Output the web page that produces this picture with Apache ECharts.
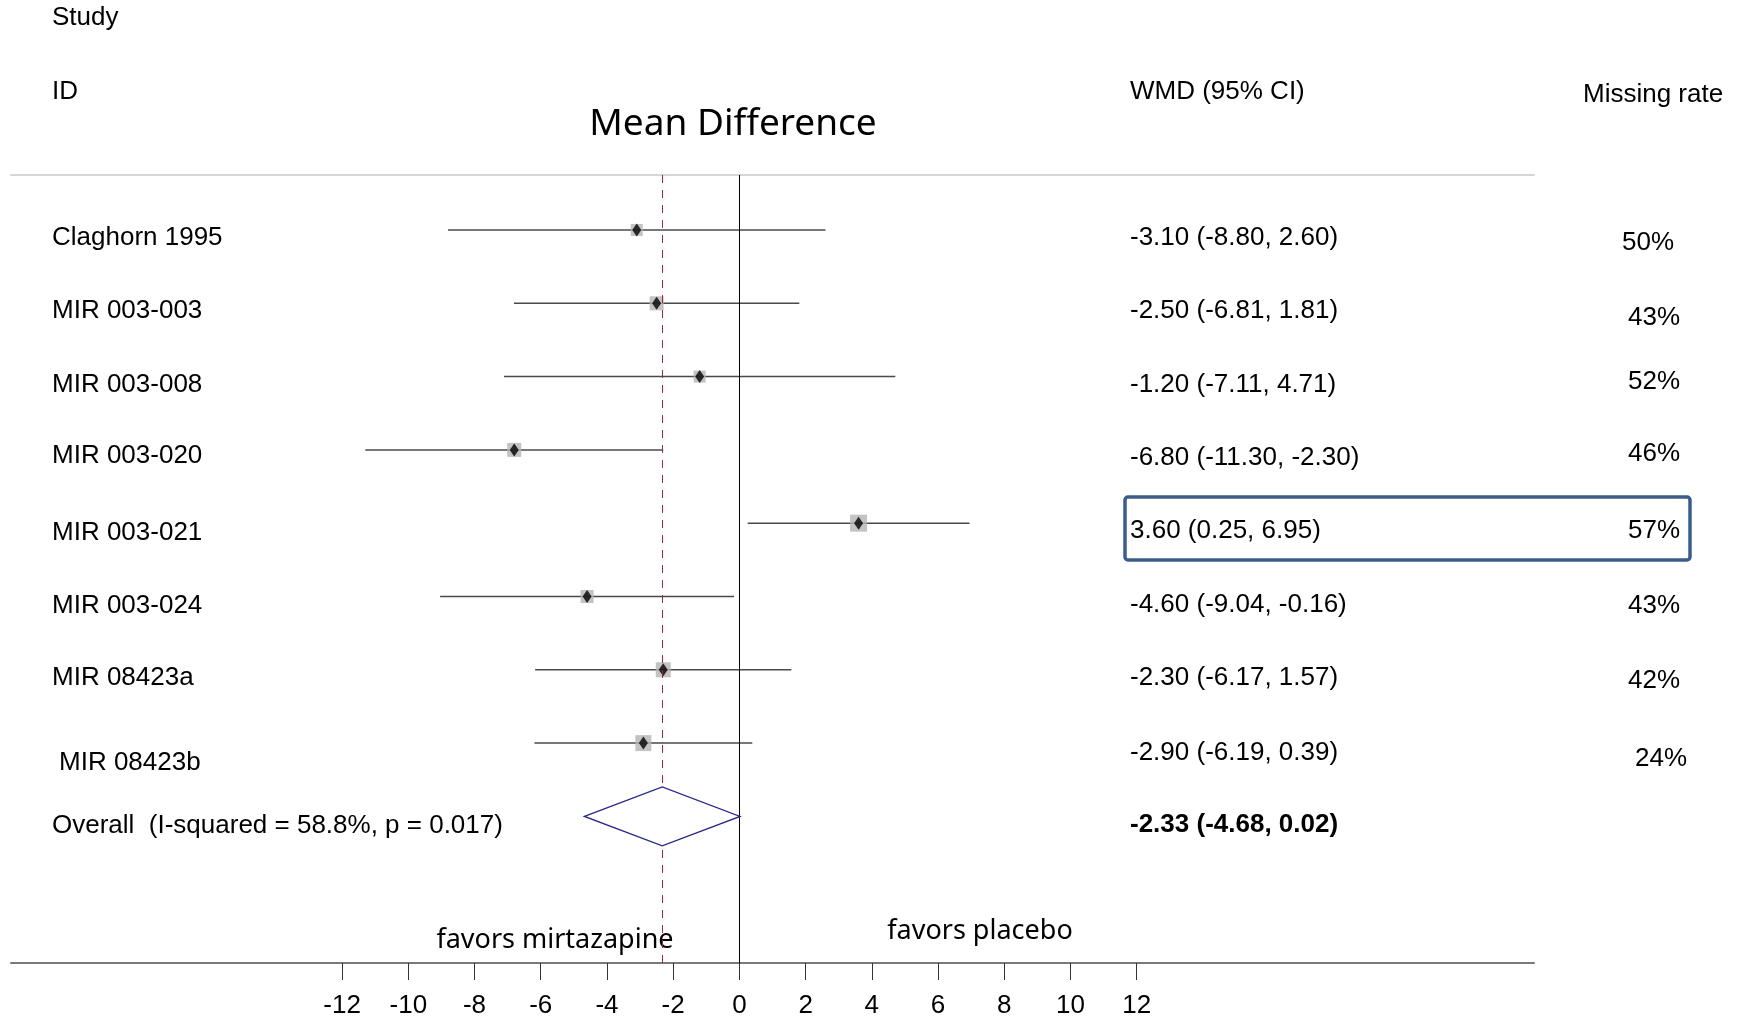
<!DOCTYPE html>
<html>
<head>
<meta charset="utf-8">
<script src="https://cdn.jsdelivr.net/npm/echarts@6/dist/echarts.min.js"></script>
<style>
html, body { margin: 0; padding: 0; background: #fff; }
#main { width: 1745px; height: 1019px; }
</style>
</head>
<body>
<div id="main"></div>
<script>
// study rows
var studies = ['Claghorn 1995', 'MIR 003-003', 'MIR 003-008', 'MIR 003-020',
               'MIR 003-021', 'MIR 003-024', 'MIR 08423a', 'MIR 08423b'];
var wmd    = [-3.10, -2.50, -1.20, -6.80, 3.60, -4.60, -2.30, -2.90];
var ciLow  = [-8.80, -6.81, -7.11, -11.30, 0.25, -9.04, -6.17, -6.19];
var ciHigh = [2.60, 1.81, 4.71, -2.30, 6.95, -0.16, 1.57, 0.39];
var missingRate = [50, 43, 52, 46, 57, 43, 42, 24];

// pooled estimate
var overallLabel = 'Overall  (I-squared = 58.8%, p = 0.017)';
var overallWmd = -2.33;
var overallLow = -4.68;
var overallHigh = 0.02;

var tickValues = [-12, -10, -8, -6, -4, -2, 0, 2, 4, 6, 8, 10, 12];

// layout only (weight boxes and small text nudges)
var boxSize = [12, 14, 12, 14, 17, 13, 15, 16];
var studyDy = [8, 8, 8, 6, 10, 9, 8, 20, 9];
var missDy = [13, 15, 5, 4, 8, 9, 11, 16];
var missDx = [-6, 0, 0, 0, 0, 0, 0, 7];

var rowFont = '26px "Liberation Sans", Arial, sans-serif';
var overallRow = studies.length;

function fmt(v) { return v.toFixed(2); }

var chart = echarts.init(document.getElementById('main'));

var option = {
    backgroundColor: '#fff',
    animation: false,
    grid: { left: 11, right: 211, top: 175, bottom: 55 },
    xAxis: [
        {
            type: 'value', min: -22, max: 24, position: 'bottom',
            axisLine: { onZero: false, lineStyle: { color: '#7a7a7a', width: 2 } },
            axisTick: { customValues: tickValues, length: 17, lineStyle: { color: '#333', width: 1 } },
            axisLabel: {
                customValues: tickValues, margin: 30, color: '#000',
                fontSize: 26, fontFamily: '"Liberation Sans", Arial, sans-serif'
            },
            splitLine: { show: false }
        },
        {
            type: 'value', min: -22, max: 24, position: 'top',
            axisLine: { onZero: false, lineStyle: { color: '#d6d6d6', width: 2 } },
            axisTick: { show: false },
            axisLabel: { show: false },
            splitLine: { show: false }
        }
    ],
    yAxis: { type: 'value', min: -0.75, max: 10, inverse: true, show: false },
    graphic: [
        { type: 'text', x: 52, y: 18, style: { text: 'Study', font: rowFont, fill: '#000', verticalAlign: 'middle' } },
        { type: 'text', x: 52, y: 92, style: { text: 'ID', font: rowFont, fill: '#000', verticalAlign: 'middle' } },
        { type: 'text', x: 1130, y: 92, style: { text: 'WMD (95% CI)', font: rowFont, fill: '#000', verticalAlign: 'middle' } },
        { type: 'text', x: 1583, y: 95, style: { text: 'Missing rate', font: rowFont, fill: '#000', verticalAlign: 'middle' } },
        {
            type: 'text', x: 733, y: 124,
            style: { text: 'Mean Difference', font: '37px "Noto Sans", sans-serif', fill: '#000', align: 'center', verticalAlign: 'middle' }
        },
        {
            type: 'text', x: 555, y: 940,
            style: { text: 'favors mirtazapine', font: '27px "Noto Sans", sans-serif', fill: '#000', align: 'center', verticalAlign: 'middle' }
        },
        {
            type: 'text', x: 980, y: 931,
            style: { text: 'favors placebo', font: '27px "Noto Sans", sans-serif', fill: '#000', align: 'center', verticalAlign: 'middle' }
        },
        {
            type: 'rect', shape: { x: 1125, y: 497, width: 565, height: 63, r: 3 },
            style: { fill: 'none', stroke: '#3b5d8c', lineWidth: 3.5 }
        }
    ],
    series: [
        {
            // confidence intervals
            type: 'custom',
            clip: false,
            data: studies.map(function (s, i) { return [ciLow[i], ciHigh[i], i]; }),
            renderItem: function (params, api) {
                var a = api.coord([api.value(0), api.value(2)]);
                var b = api.coord([api.value(1), api.value(2)]);
                return {
                    type: 'line',
                    shape: { x1: a[0], y1: a[1], x2: b[0], y2: b[1] },
                    style: { stroke: '#4a4a4a', lineWidth: 1.5 }
                };
            },
            z: 2
        },
        {
            // weight boxes
            type: 'scatter',
            symbol: 'rect',
            data: wmd.map(function (v, i) { return [v, i]; }),
            symbolSize: function (val, p) { return boxSize[p.dataIndex]; },
            itemStyle: { color: '#b4b4b4' },
            z: 3,
            markLine: {
                silent: true,
                symbol: 'none',
                label: { show: false },
                data: [
                    { xAxis: 0, lineStyle: { color: '#000', type: 'solid', width: 1 } },
                    { xAxis: overallWmd, lineStyle: { color: '#9e2838', type: [8, 7], width: 1 } }
                ]
            }
        },
        {
            // point estimates
            type: 'scatter',
            symbol: 'diamond',
            symbolSize: [9, 13],
            data: wmd.map(function (v, i) { return [v, i]; }),
            itemStyle: { color: '#000' },
            z: 4
        },
        {
            // pooled diamond
            type: 'custom',
            clip: false,
            data: [[overallLow, overallWmd, overallHigh, overallRow]],
            renderItem: function (params, api) {
                var l = api.coord([api.value(0), api.value(3)]);
                var c = api.coord([api.value(1), api.value(3)]);
                var h = api.coord([api.value(2), api.value(3)]);
                return {
                    type: 'polygon',
                    shape: { points: [[l[0], c[1]], [c[0], c[1] - 29.5], [h[0], c[1]], [c[0], c[1] + 29.5]] },
                    style: { fill: '#fff', stroke: '#26268a', lineWidth: 1.3 }
                };
            },
            z: 5
        },
        {
            // text columns
            type: 'custom',
            clip: false,
            data: studies.concat([overallLabel]).map(function (s, i) { return [0, i]; }),
            renderItem: function (params, api) {
                var i = params.dataIndex;
                var y = api.coord([0, i])[1];
                var isOverall = i === overallRow;
                var name = isOverall ? overallLabel : studies[i];
                var est = isOverall
                    ? fmt(overallWmd) + ' (' + fmt(overallLow) + ', ' + fmt(overallHigh) + ')'
                    : fmt(wmd[i]) + ' (' + fmt(ciLow[i]) + ', ' + fmt(ciHigh[i]) + ')';
                var kids = [
                    {
                        type: 'text', x: 52 + (i === 7 ? 7 : 0), y: y + studyDy[i],
                        style: { text: name, font: rowFont, fill: '#000', align: 'left', verticalAlign: 'middle' }
                    },
                    {
                        type: 'text', x: 1130, y: y + (i === 7 ? 10 : 8),
                        style: {
                            text: est, fill: '#000', align: 'left', verticalAlign: 'middle',
                            font: (isOverall ? 'bold ' : '') + rowFont
                        }
                    }
                ];
                if (!isOverall) {
                    kids.push({
                        type: 'text', x: 1654 + missDx[i], y: y + missDy[i],
                        style: { text: missingRate[i] + '%', font: rowFont, fill: '#000', align: 'center', verticalAlign: 'middle' }
                    });
                }
                return { type: 'group', children: kids };
            },
            z: 6
        }
    ]
};

chart.setOption(option);
</script>
</body>
</html>
